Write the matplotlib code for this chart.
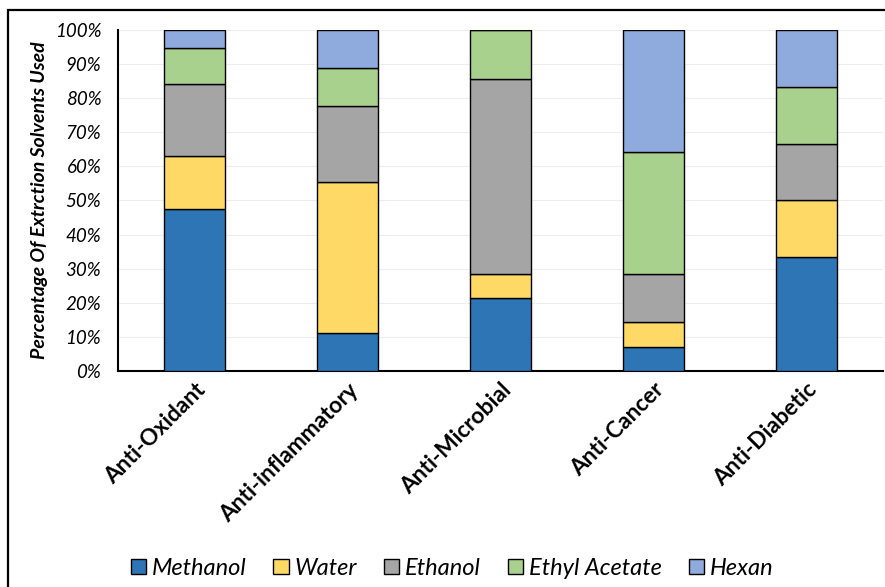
import numpy as np
import matplotlib
matplotlib.use("Agg")
import matplotlib.pyplot as plt
from matplotlib.patches import Rectangle
from matplotlib.ticker import PercentFormatter

plt.rcParams['font.family'] = ['Lato', 'DejaVu Sans']

activities = ['Anti-Oxidant', 'Anti-inflammatory', 'Anti-Microbial', 'Anti-Cancer', 'Anti-Diabetic']
solvents = ['Methanol', 'Water', 'Ethanol', 'Ethyl Acetate', 'Hexan']
colors = ['#2E75B6', '#FFD966', '#A5A5A5', '#A9D18E', '#8FAADC']

# number of studies using each solvent, per activity
methanol = [9, 1, 3, 1, 2]
water = [3, 4, 1, 1, 1]
ethanol = [4, 2, 8, 2, 1]
ethyl_acetate = [2, 1, 2, 5, 1]
hexan = [1, 1, 0, 5, 1]

counts = np.array([methanol, water, ethanol, ethyl_acetate, hexan], dtype=float)
shares = counts / counts.sum(axis=0) * 100

fig = plt.figure(figsize=(8.85, 5.87), dpi=100)
ax = fig.add_axes([0.1333, 0.368, 0.8644, 0.581])

x = np.arange(len(activities))
bottom = np.zeros(len(activities))
for name, vals, c in zip(solvents, shares, colors):
    ax.bar(x, vals, 0.4, bottom=bottom, color=c, edgecolor='black',
           linewidth=1.0, label=name, zorder=3)
    bottom += vals

ax.set_xlim(-0.5, 4.5)
ax.set_ylim(0, 100)
ax.set_yticks(np.arange(0, 101, 10))
ax.yaxis.set_major_formatter(PercentFormatter(decimals=0))
ax.grid(axis='y', color='#EDEDED', linewidth=0.8, zorder=0)

for s in ['top', 'right']:
    ax.spines[s].set_visible(False)
ax.spines['left'].set_linewidth(1.5)
ax.spines['bottom'].set_linewidth(1.5)
ax.tick_params(axis='both', length=0)
ax.tick_params(axis='y', pad=12)

for lab in ax.get_yticklabels():
    lab.set_fontstyle('italic')
    lab.set_fontsize(13.5)

ax.set_xticks(x)
ax.set_xticklabels(activities, rotation=45, ha='right', rotation_mode='anchor',
                   fontsize=16.3, fontweight='bold')
ax.tick_params(axis='x', pad=6)

ax.set_ylabel('Percentage Of Extrction Solvents Used', fontsize=14,
              fontweight='bold', fontstyle='italic', labelpad=5)

leg = fig.legend(loc='center', bbox_to_anchor=(0.511, 0.032), ncol=5, frameon=False,
                 prop={'style': 'italic', 'size': 17}, handlelength=0.64,
                 handleheight=0.64, handletextpad=0.25, columnspacing=1.15)

# outer frame of the chart area
fig.patches.append(Rectangle((0.009, -0.05), 1.2, 1.033,
                             transform=fig.transFigure, fill=False,
                             edgecolor='black', linewidth=1.6))

fig.savefig('out.png', dpi=100)
